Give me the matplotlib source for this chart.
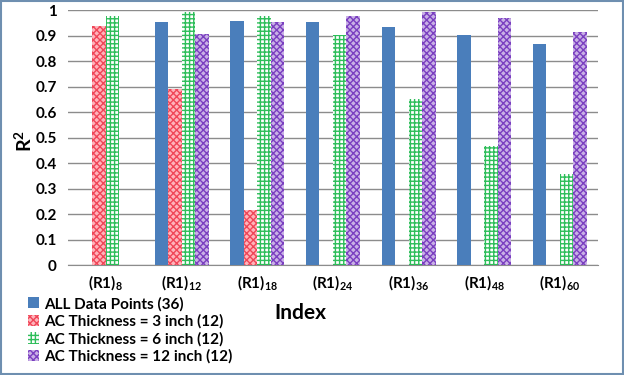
import numpy as np
import matplotlib
matplotlib.use('Agg')
import matplotlib.pyplot as plt
from matplotlib.patches import Rectangle

plt.rcParams['font.family'] = ['Lato', 'DejaVu Sans']
plt.rcParams['mathtext.fontset'] = 'custom'
plt.rcParams['mathtext.rm'] = 'Lato:bold'
plt.rcParams['mathtext.it'] = 'Lato:bold'
plt.rcParams['mathtext.bf'] = 'Lato:bold'
plt.rcParams['hatch.linewidth'] = 1.0

subs = ['8', '12', '18', '24', '36', '48', '60']
all_pts = [np.nan, 0.954, 0.957, 0.952, 0.932, 0.902, 0.869]
ac3 = [0.937, 0.689, 0.216, np.nan, np.nan, np.nan, np.nan]
ac6 = [0.976, 0.991, 0.976, 0.902, 0.651, 0.467, 0.358]
ac12 = [np.nan, 0.905, 0.953, 0.976, 0.991, 0.969, 0.913]
labels = ['ALL Data Points (36)', 'AC Thickness = 3 inch (12)',
          'AC Thickness = 6 inch (12)', 'AC Thickness = 12 inch (12)']

fig = plt.figure(figsize=(6.24, 3.75), dpi=100)
ax = fig.add_axes([0.109, 0.293, 0.849, 0.680])

x = np.arange(len(subs))
w = 1 / 5.6
styles = [
    dict(color='#4A7EBB', edgecolor='#4A7EBB', hatch=None),
    dict(color='#FFB3BA', edgecolor='#F04658', hatch='xxxxx'),
    dict(color='white', edgecolor='#2EBE5A', hatch='++++'),
    dict(color='#C9B0E6', edgecolor='#7A3FC0', hatch='xxxxx'),
]
series = [all_pts, ac3, ac6, ac12]
handles = []
for i, (vals, st) in enumerate(zip(series, styles)):
    b = ax.bar(x + (i - 1.5) * w, vals, w, facecolor=st['color'],
               edgecolor=st['edgecolor'], hatch=st['hatch'], linewidth=0,
               label=labels[i], zorder=3)
    handles.append(b)

ax.set_xlim(-0.5, len(subs) - 0.5)
ax.set_ylim(0, 1)
ax.set_yticks(np.arange(0, 1.01, 0.1))
ax.set_yticklabels(['0'] + ['%.1f' % v for v in np.arange(0.1, 0.95, 0.1)] + ['1'])
ax.set_xticks(x)
ax.set_xticklabels(['(R1)$_{%s}$' % s for s in subs], fontsize=11,
                   fontweight='bold')
ax.yaxis.grid(True, color='#8C8C8C', linewidth=1, zorder=0)
for s in ['left', 'right', 'top']:
    ax.spines[s].set_visible(False)
ax.spines['bottom'].set_color('#8C8C8C')
ax.tick_params(axis='both', length=0, labelsize=11, pad=6)
for t in ax.get_yticklabels():
    t.set_fontweight('bold')
ax.tick_params(axis='y', pad=8)

fig.text(0.038, 0.625, 'R$^2$', rotation=90, fontsize=14,
         fontweight='bold', ha='center', va='center')
fig.text(0.481, 0.165, 'Index', fontsize=15, fontweight='bold',
         ha='center', va='center')

fig.legend(handles=handles, loc='upper left', bbox_to_anchor=(0.035, 0.225),
           frameon=False, prop={'weight': 'bold', 'size': 11},
           handlelength=0.75, handleheight=0.75, handletextpad=0.3,
           labelspacing=0.2, borderaxespad=0)

fig.patches.append(Rectangle((0.002, 0.003), 0.996, 0.994, transform=fig.transFigure,
                             fill=False, edgecolor='#6E8FB0', linewidth=1.5))

fig.savefig('out.png', dpi=100)
